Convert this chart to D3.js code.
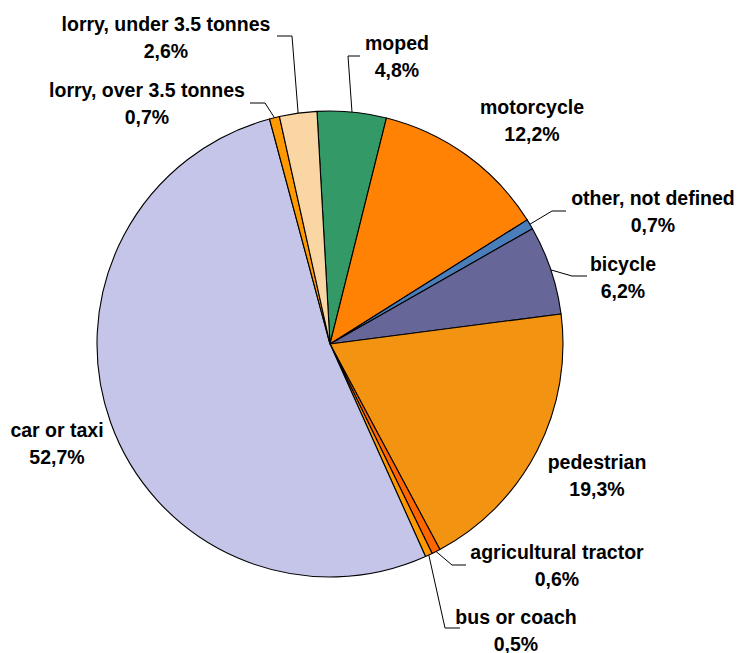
<!DOCTYPE html>
<html><head><meta charset="utf-8">
<script src="https://cdn.jsdelivr.net/npm/d3@7"></script>
<style>body{margin:0;background:#fff}svg{display:block}</style>
</head><body>
<svg id="c" width="739" height="653"></svg>
<script>
// Data, clockwise starting at the moped slice
const categories = ["moped","motorcycle","other, not defined","bicycle","pedestrian","agricultural tractor","bus or coach","car or taxi","lorry, over 3.5 tonnes","lorry, under 3.5 tonnes"];
const values = [4.8,12.2,0.7,6.2,19.3,0.6,0.5,52.7,0.7,2.6];
const valueLabels = ["4,8%","12,2%","0,7%","6,2%","19,3%","0,6%","0,5%","52,7%","0,7%","2,6%"];
const colors = ["#339966","#FF8205","#4A7EBB","#666699","#F29411","#FF6600","#FF9900","#C4C5E9","#FF9900","#F9D6A4"];

// layout: label centre x, first-line baseline y, leader elbow/end (null = no leader)
const labelLayout = [
  {x:397, y:50, leader:[[348,56],[360,56]]},
  {x:532, y:114, leader:null},
  {x:653, y:205, leader:[[552,211],[566,211]]},
  {x:623, y:271, leader:[[572,276],[587,276]]},
  {x:597, y:469, leader:null},
  {x:557, y:559, leader:[[452,565],[466,565]]},
  {x:516, y:624, leader:[[445,628],[460,628]]},
  {x:57,  y:437, leader:null},
  {x:147, y:97,  leader:[[265,103],[250,103]]},
  {x:166, y:31,  leader:[[292,36],[277,36]]}
];

const cx = 330, cy = 344, R = 233;
const svg = d3.select("#c");
const g = svg.append("g").attr("transform", `translate(${cx},${cy})`);
const start = -3.2 * Math.PI / 180;
const pie = d3.pie().sort(null).value(d => d).startAngle(start).endAngle(start + 2*Math.PI);
const arcs = pie(values);
const arc = d3.arc().innerRadius(0).outerRadius(R);

g.selectAll("path.s").data(arcs).enter().append("path")
  .attr("class","s")
  .attr("d", arc)
  .attr("fill", (d,i) => colors[i])
  .attr("stroke", "#000")
  .attr("stroke-width", 1.1)
  .attr("stroke-linejoin","round");

// leader lines
arcs.forEach((a,i) => {
  const L = labelLayout[i];
  if (!L.leader) return;
  const m = (a.startAngle + a.endAngle)/2;
  const p0 = [cx + R*Math.sin(m), cy - R*Math.cos(m)];
  const pts = [p0, L.leader[0], L.leader[1]];
  svg.append("path")
    .attr("d", d3.line()(pts))
    .attr("fill","none")
    .attr("stroke","#000")
    .attr("stroke-width",1);
});

// labels
arcs.forEach((a,i) => {
  const L = labelLayout[i];
  const t = svg.append("text")
    .attr("text-anchor","middle")
    .attr("font-family","Liberation Sans, Arial, sans-serif")
    .attr("font-weight","bold")
    .attr("font-size","19.5px")
    .attr("fill","#000");
  t.append("tspan").attr("x", L.x).attr("y", L.y).text(categories[i]);
  t.append("tspan").attr("x", L.x).attr("y", L.y + 26.5).text(valueLabels[i]);
});
</script>
</body></html>
